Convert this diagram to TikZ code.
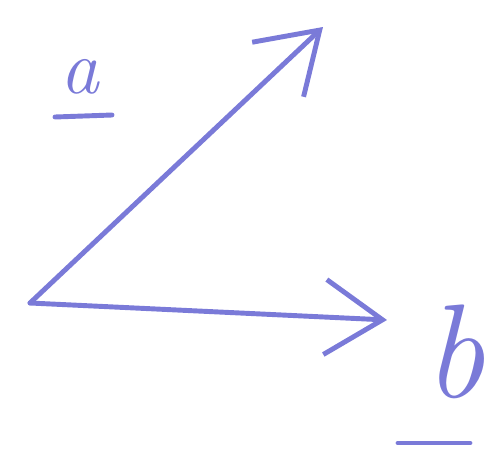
\documentclass[tikz,border=0pt]{standalone}
\usepackage{tikz}
\usetikzlibrary{arrows.meta}
\definecolor{penblue}{HTML}{7A7AD8}
\tikzset{
  vec/.style={draw=penblue, line width=2.8pt, line cap=round, line join=round,
    -{Straight Barb[length=1.15cm, width=1.5cm, line width=2.8pt]}},
  lbl/.style={text=penblue, inner sep=0pt, anchor=base, font=\itshape},
  uline/.style={draw=penblue, line width=2.8pt, line cap=round},
}
\begin{document}
\begin{tikzpicture}[x=0.02cm, y=-0.02cm]
  \useasboundingbox (0,0) rectangle (495,454);
  \coordinate (O) at (30,303);
  \coordinate (A) at (323,27);
  \coordinate (B) at (387,320);
  \draw[vec] (O) -- (A);
  \draw[vec] (O) -- (B);
  \node[lbl, font=\itshape\fontsize{44}{46}\selectfont] (la) at (80,93) {a};
  \node[lbl, font=\itshape\fontsize{76}{78}\selectfont] (lb) at (455,397) {b};
  \draw[uline] ([shift={(-25,24)}]la.base) -- ([shift={(32,22)}]la.base);
  \draw[uline] ([shift={(-57,46)}]lb.base) -- ([shift={(15,46)}]lb.base);
\end{tikzpicture}
\end{document}
